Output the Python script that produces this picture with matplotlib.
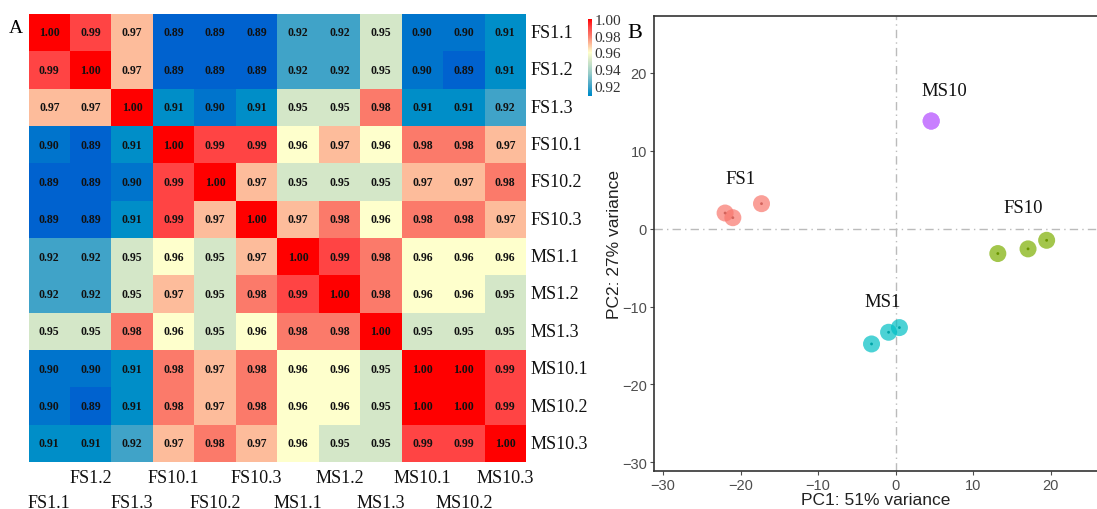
import numpy as np
import matplotlib
matplotlib.use("Agg")
import matplotlib.pyplot as plt
from matplotlib.colors import LinearSegmentedColormap, Normalize
from matplotlib.cm import ScalarMappable

samples = ["FS1.1", "FS1.2", "FS1.3", "FS10.1", "FS10.2", "FS10.3",
           "MS1.1", "MS1.2", "MS1.3", "MS10.1", "MS10.2", "MS10.3"]

corr = [
    [1.00, 0.99, 0.97, 0.89, 0.89, 0.89, 0.92, 0.92, 0.95, 0.90, 0.90, 0.91],
    [0.99, 1.00, 0.97, 0.89, 0.89, 0.89, 0.92, 0.92, 0.95, 0.90, 0.89, 0.91],
    [0.97, 0.97, 1.00, 0.91, 0.90, 0.91, 0.95, 0.95, 0.98, 0.91, 0.91, 0.92],
    [0.90, 0.89, 0.91, 1.00, 0.99, 0.99, 0.96, 0.97, 0.96, 0.98, 0.98, 0.97],
    [0.89, 0.89, 0.90, 0.99, 1.00, 0.97, 0.95, 0.95, 0.95, 0.97, 0.97, 0.98],
    [0.89, 0.89, 0.91, 0.99, 0.97, 1.00, 0.97, 0.98, 0.96, 0.98, 0.98, 0.97],
    [0.92, 0.92, 0.95, 0.96, 0.95, 0.97, 1.00, 0.99, 0.98, 0.96, 0.96, 0.96],
    [0.92, 0.92, 0.95, 0.97, 0.95, 0.98, 0.99, 1.00, 0.98, 0.96, 0.96, 0.95],
    [0.95, 0.95, 0.98, 0.96, 0.95, 0.96, 0.98, 0.98, 1.00, 0.95, 0.95, 0.95],
    [0.90, 0.90, 0.91, 0.98, 0.97, 0.98, 0.96, 0.96, 0.95, 1.00, 1.00, 0.99],
    [0.90, 0.89, 0.91, 0.98, 0.97, 0.98, 0.96, 0.96, 0.95, 1.00, 1.00, 0.99],
    [0.91, 0.91, 0.92, 0.97, 0.98, 0.97, 0.96, 0.95, 0.95, 0.99, 0.99, 1.00],
]

# PCA data
groups = ["FS1", "MS1", "FS10", "MS10"]
group_colors = ["#F8766D", "#00BFC4", "#7CAE00", "#C77CFF"]
pc1 = {
    "FS1": [-22.0, -21.0, -17.3],
    "MS1": [-3.1, -0.9, 0.5],
    "FS10": [13.2, 17.1, 19.5],
    "MS10": [4.6, 4.6, 4.6],
}
pc2 = {
    "FS1": [2.0, 1.4, 3.2],
    "MS1": [-14.8, -13.3, -12.7],
    "FS10": [-3.2, -2.6, -1.5],
    "MS10": [13.8, 13.8, 13.8],
}
label_pos = {
    "FS1": (-20.0, 5.3),
    "MS1": (-1.7, -10.5),
    "FS10": (16.5, 1.6),
    "MS10": (6.3, 16.6),
}
pc_ticks = [-30, -20, -10, 0, 10, 20]

serif = ["Liberation Serif", "DejaVu Serif"]
sans = ["Liberation Sans", "DejaVu Sans"]

anchors = [
    (0.89, "#0062CF"), (0.90, "#0074CC"), (0.91, "#008EC8"), (0.92, "#42A4C8"),
    (0.935, "#98CCC8"), (0.95, "#D4E7C8"), (0.96, "#FFFFCC"), (0.97, "#FDBE9C"),
    (0.98, "#FB7B6B"), (0.99, "#FF4545"), (1.00, "#FF0000"),
]
vmin, vmax = 0.89, 1.00
cmap = LinearSegmentedColormap.from_list(
    "corr", [((v - vmin) / (vmax - vmin), c) for v, c in anchors])
norm = Normalize(vmin=vmin, vmax=vmax)

fig = plt.figure(figsize=(10.97, 5.10), dpi=100)

# Heatmap
axh = fig.add_axes([0.026, 0.092, 0.4535, 0.879])
M = np.array(corr)
n = len(samples)
axh.pcolormesh(np.arange(n + 1), np.arange(n + 1), M, cmap=cmap, norm=norm)
axh.set_xlim(0, n)
axh.set_ylim(n, 0)
for i in range(n):
    for j in range(n):
        axh.text(j + 0.5, i + 0.5, f"{M[i, j]:.2f}", ha="center", va="center",
                 fontsize=8.5, fontweight="bold", family=serif, color="#111111")
for s in axh.spines.values():
    s.set_visible(False)
axh.set_xticks([])
axh.set_yticks([])
for i, lab in enumerate(samples):
    axh.text(n + 0.12, i + 0.5, lab, ha="left", va="center", fontsize=13,
             family=serif, color="#111111")
for j, lab in enumerate(samples):
    yoff = 12.4 if j % 2 == 1 else 13.08
    axh.text(j + 0.5, yoff, lab, ha="center", va="center", fontsize=13,
             family=serif, color="#111111", clip_on=False)
fig.text(0.008, 0.935, "A", fontsize=14, family=serif)

# Colorbar
cax = fig.add_axes([0.536, 0.81, 0.0037, 0.161])
cb = fig.colorbar(ScalarMappable(norm=norm, cmap=cmap), cax=cax)
cb.outline.set_visible(False)
cax.set_ylim(0.908, 1.006)
cb.set_ticks([0.92, 0.94, 0.96, 0.98, 1.00])
cb.set_ticklabels(["0.92", "0.94", "0.96", "0.98", "1.00"])
cax.tick_params(length=0, labelsize=11, pad=2, colors="#333333")
for t in cax.get_yticklabels():
    t.set_family(serif)
fig.text(0.572, 0.925, "B", fontsize=16, family=serif)

# PCA
axp = fig.add_axes([0.596, 0.0745, 0.404, 0.8925])
axp.axhline(0, color="#BBBBBB", lw=1, ls=(0, (6, 3, 1, 3)), zorder=0)
axp.axvline(0, color="#BBBBBB", lw=1, ls=(0, (6, 3, 1, 3)), zorder=0)
for g, c in zip(groups, group_colors):
    axp.scatter(pc1[g], pc2[g], s=150, color=c, alpha=0.7, edgecolors="none", zorder=2)
    if g != "MS10":
        axp.scatter(pc1[g], pc2[g], s=4, color=c, alpha=1.0, edgecolors="none", zorder=3)
        axp.scatter(pc1[g], pc2[g], s=4, color="black", alpha=0.15, edgecolors="none", zorder=4)
    x, y = label_pos[g]
    axp.text(x, y, g, ha="center", va="bottom", fontsize=13.5, family=serif, color="#111111")
axp.set_xlim(-31.2, 26.0)
axp.set_ylim(-31.1, 27.3)
axp.set_xticks(pc_ticks)
axp.set_yticks(pc_ticks)
axp.set_xticklabels([str(t).replace("-", "\u2212") for t in pc_ticks])
axp.set_yticklabels([str(t).replace("-", "\u2212") for t in pc_ticks])
axp.tick_params(labelsize=10.5, colors="#4D4D4D", length=3, width=0.8, pad=2)
for t in axp.get_xticklabels() + axp.get_yticklabels():
    t.set_family(sans)
axp.spines["right"].set_visible(False)
for k in ("left", "bottom", "top"):
    axp.spines[k].set_color("#333333")
    axp.spines[k].set_linewidth(1.2)
axp.set_xlabel("PC1: 51% variance", fontsize=12.5, family=sans, color="#222222", labelpad=0)
axp.set_ylabel("PC2: 27% variance", fontsize=12.5, family=sans, color="#222222", labelpad=0)

fig.savefig("out.png", dpi=100)
